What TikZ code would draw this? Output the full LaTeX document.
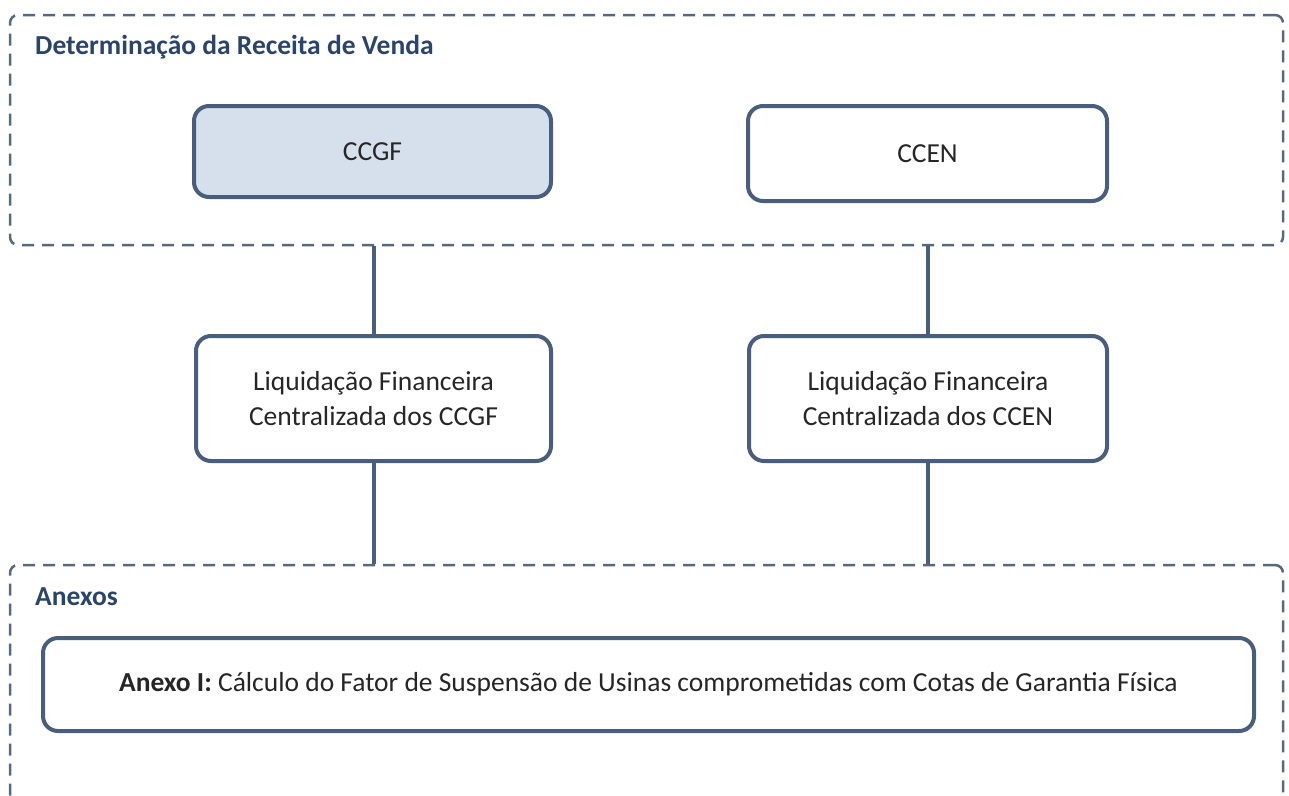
\documentclass[tikz,border=0pt]{standalone}
\usepackage{fontspec}
\setmainfont{Carlito}
\usetikzlibrary{positioning}
\definecolor{titleblue}{RGB}{42,68,108}
\definecolor{boxline}{RGB}{72,94,124}
\definecolor{frameline}{RGB}{88,104,126}
\definecolor{boxfill}{RGB}{214,223,236}

\begin{document}
\begin{tikzpicture}[x=1pt, y=-1pt,
    frame/.style={draw=frameline, line width=2.5pt, dash pattern=on 12pt off 8pt,
      rounded corners=8pt, inner sep=0pt},
    box/.style={draw=boxline, line width=4pt, rounded corners=15pt, fill=white,
      align=center, font=\fontsize{27.5}{35}\selectfont, text=black!85, inner sep=0pt},
    heading/.style={anchor=west, font=\fontsize{27.5}{30}\selectfont\bfseries,
      text=titleblue, inner sep=0pt},
    link/.style={draw=boxline, line width=4pt}]
  \useasboundingbox (0,0) rectangle (1289,795);

  % frames
  \node[frame, minimum width=1273pt, minimum height=230pt] (venda) at (646.5,130) {};
  \node[frame, minimum width=1273pt, minimum height=270pt] (anexos) at (646.5,700) {};
  \node[heading] (tvenda) at (35,47) {Determinação da Receita de Venda};
  \node[heading] (tanexos) at (35,597) {Anexos};

  % boxes
  \node[box, fill=boxfill, minimum width=357pt, minimum height=91pt] (ccgf) at (372.5,151.5) {CCGF};
  \node[box, minimum width=359pt, minimum height=95pt] (ccen) at (927.5,153.5) {CCEN};
  \node[box, minimum width=355pt, minimum height=125pt] (liqccgf) at (373.5,398.5)
    {Liquidação Financeira\\Centralizada dos CCGF};
  \node[box, minimum width=358pt, minimum height=125pt] (liqccen) at (928,398.5)
    {Liquidação Financeira\\Centralizada dos CCEN};
  \node[box, minimum width=1211pt, minimum height=93pt] (anexo1) at (648.5,684.5)
    {\textbf{Anexo I:} Cálculo do Fator de Suspensão de Usinas comprometidas com Cotas de Garantia Física};

  % links
  \draw[link] (venda.south -| liqccgf.north) -- (liqccgf.north);
  \draw[link] (venda.south -| liqccen.north) -- (liqccen.north);
  \draw[link] (liqccgf.south) -- (anexos.north -| liqccgf.south);
  \draw[link] (liqccen.south) -- (anexos.north -| liqccen.south);
\end{tikzpicture}
\end{document}
